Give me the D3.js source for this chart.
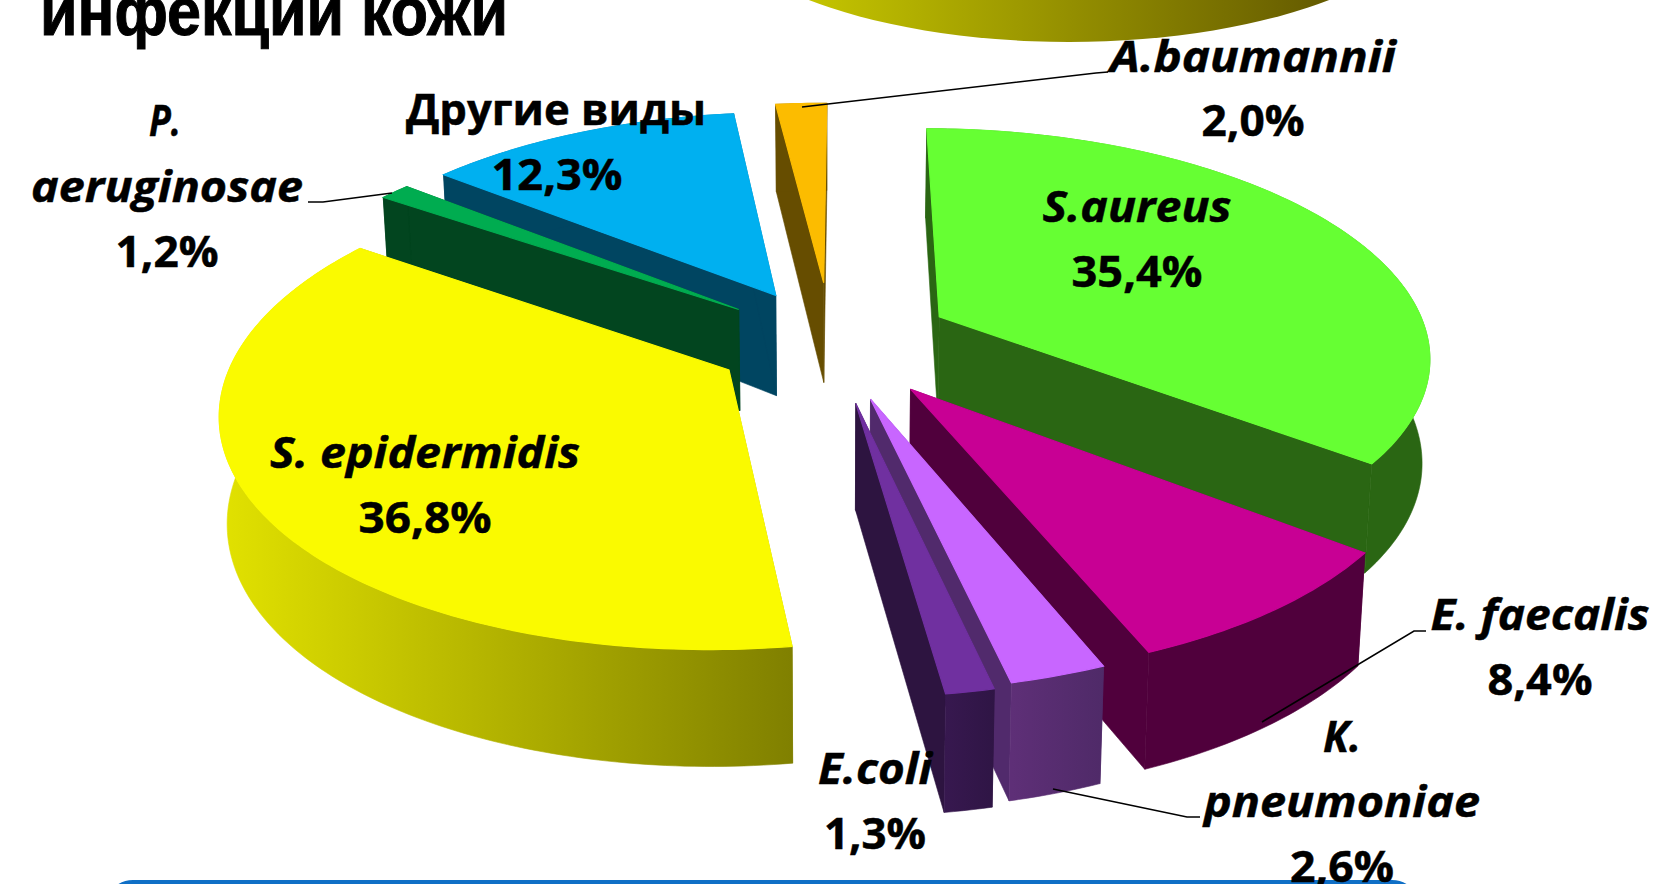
<!DOCTYPE html>
<html>
<head>
<meta charset="utf-8">
<script src="https://cdnjs.cloudflare.com/ajax/libs/d3/7.8.5/d3.min.js"></script>
<style>
  html, body { margin: 0; padding: 0; background: #fff; overflow: hidden; }
  text { font-family: "Open Sans", sans-serif; font-weight: 700; fill: #000; stroke: #000; stroke-width: 0.5; text-anchor: middle; }
</style>
</head>
<body>
<svg id="chart" width="1655" height="884"></svg>
<script>
// data
var names = ["S.aureus", "E. faecalis", "K. pneumoniae", "E.coli", "S. epidermidis", "P. aeruginosae", "Другие виды", "A.baumannii"];
var values = [35.4, 8.4, 2.6, 1.3, 36.8, 1.2, 12.3, 2.0];
var valueLabels = ["35,4%", "8,4%", "2,6%", "1,3%", "36,8%", "1,2%", "12,3%", "2,0%"];

// styling, same order as the data
var topColors = ["#66ff33", "#c80094", "#c866ff", "#7030a0", "#fafa00", "#00ac50", "#00b0f0", "#fcbc00"];
var wallColors = ["#2a6613", "#50003c", "#512a6c", "#2d1440", "#808000", "#02451f", "#004561", "#664d00"];
var rimFrom = [null, null, "#5e2f77", "#37184f", "#e2e200", null, null, null];
var rimTo = [null, null, "#4f2a68", "#2f1545", "#808000", null, null, null];
var explode = [0.25, 0.26, 0.26, 0.27, 0.24, 0.24, 0.24, 0.27];
var drawOrder = [7, 6, 5, 4, 0, 1, 2, 3];

// x, baseline, width, italic
var labelRows = [
  ["A.baumannii", 1253, 72, 286, true], ["2,0%", 1253, 136, 103, false],
  ["Другие виды", 556, 125, 300, false], ["12,3%", 557, 190, 131, false],
  ["P.", 165, 136, 32, true], ["aeruginosae", 167, 202, 272, true], ["1,2%", 167, 267, 103, false],
  ["S.aureus", 1137, 222, 189, true], ["35,4%", 1137, 287, 131, false],
  ["S. epidermidis", 425, 468, 310, true], ["36,8%", 425, 533, 133, false],
  ["E. faecalis", 1540, 630, 219, true], ["8,4%", 1540, 695, 105, false],
  ["K.", 1342, 752, 38, true], ["pneumoniae", 1342, 817, 276, true], ["2,6%", 1342, 882, 104, false],
  ["E.coli", 875, 784, 114, true], ["1,3%", 875, 849, 102, false]
];
var leaders = [
  [[802, 107], [1096, 73], [1108, 72]],
  [[392, 193], [323, 202], [308, 202]],
  [[1262, 722], [1414, 631], [1426, 631]],
  [[1053, 789], [1187, 817], [1200, 817]]
];

var svg = d3.select("#chart");
var defs = svg.append("defs");

// perspective of the tilted pie
var cx = 831, cy = 341, Rx = 490, Ry = 225, persp = 6.3, depth = 103;
var rot = 0.3 * Math.PI / 180;

function project(u, v, z) {
  var s = persp / (persp - v);
  var x = cx + Rx * u * s * (1 - 0.013 * z);
  return [x, cy + Ry * v * s + z * depth * (1 + 0.12 * v)];
}

var pie = d3.pie().sort(null).value(function (d) { return d; })
  .startAngle(rot).endAngle(rot + 2 * Math.PI);
var slices = pie(values);
var line = d3.line();

// decorative bottom of the cropped chart above
var topGrad = defs.append("linearGradient").attr("id", "topGrad")
  .attr("gradientUnits", "userSpaceOnUse").attr("x1", 810).attr("x2", 1329).attr("y1", 0).attr("y2", 0);
topGrad.append("stop").attr("offset", 0).attr("stop-color", "#c4c400");
topGrad.append("stop").attr("offset", 1).attr("stop-color", "#645a00");
svg.append("ellipse").attr("cx", 1069).attr("cy", -110).attr("rx", 377).attr("ry", 152)
  .attr("fill", "url(#topGrad)");

// blue box along the bottom edge
svg.append("rect").attr("x", 107).attr("y", 882).attr("width", 1311).attr("height", 60).attr("rx", 26)
  .attr("fill", "#dbeaf6").attr("stroke", "#0f6fc6").attr("stroke-width", 4);

function drawSlice(i) {
  var d = slices[i], e = explode[i];
  var mid = (d.startAngle + d.endAngle) / 2;
  var ou = e * Math.sin(mid), ov = -e * Math.cos(mid);
  var n = Math.max(4, Math.round((d.endAngle - d.startAngle) * 60));
  var angles = d3.range(n + 1).map(function (k) {
    return d.startAngle + (d.endAngle - d.startAngle) * k / n;
  });
  var pt = function (a, r, z) {
    return project(ou + r * Math.sin(a), ov - r * Math.cos(a), z);
  };
  var g = svg.append("g").attr("class", "slice");

  // the two cut walls
  [d.startAngle, d.endAngle].forEach(function (a) {
    g.append("path").attr("fill", wallColors[i]).attr("stroke", wallColors[i]).attr("stroke-width", 0.6)
      .attr("d", line([pt(a, 0, 0), pt(a, 1, 0), pt(a, 1, 1), pt(a, 0, 1)]) + "Z");
  });

  // outer rim
  var upper = angles.map(function (a) { return pt(a, 1, 0); });
  var lower = angles.map(function (a) { return pt(a, 1, 1); }).reverse();
  var rimFill = wallColors[i];
  if (rimFrom[i]) {
    var xs = d3.extent(upper, function (p) { return p[0]; });
    var grad = defs.append("linearGradient").attr("id", "rim" + i)
      .attr("gradientUnits", "userSpaceOnUse")
      .attr("x1", xs[0]).attr("x2", xs[1]).attr("y1", 0).attr("y2", 0);
    grad.append("stop").attr("offset", 0).attr("stop-color", rimFrom[i]);
    grad.append("stop").attr("offset", 1).attr("stop-color", rimTo[i]);
    rimFill = "url(#rim" + i + ")";
  }
  g.append("path").attr("fill", rimFill).attr("stroke", rimFill).attr("stroke-width", 0.6)
    .attr("d", line(upper.concat(lower)) + "Z");

  // top face, stroked in its own colour so the walls do not show round it
  g.append("path").attr("fill", topColors[i]).attr("stroke", topColors[i]).attr("stroke-width", 1.2)
    .attr("d", line([pt(0, 0, 0)].concat(upper)) + "Z");
}

drawOrder.forEach(drawSlice);

// leader lines
svg.append("g").selectAll("path").data(leaders).enter().append("path")
  .attr("d", function (d) { return line(d); })
  .attr("fill", "none").attr("stroke", "#000").attr("stroke-width", 1.6);

// labels
svg.append("g").selectAll("text").data(labelRows).enter().append("text")
  .attr("x", function (d) { return d[1]; })
  .attr("y", function (d) { return d[2]; })
  .attr("font-size", 43)
  .attr("font-style", function (d) { return d[4] ? "italic" : "normal"; })
  .attr("textLength", function (d) { return d[3]; })
  .attr("lengthAdjust", "spacingAndGlyphs")
  .text(function (d) { return d[0]; });

// page title, cropped by the top edge
svg.append("text").attr("x", 40).attr("y", 35)
  .style("text-anchor", "start").style("font-family", "'Liberation Sans', Arial, sans-serif")
  .style("stroke-width", 1)
  .attr("font-size", 68)
  .attr("textLength", 468).attr("lengthAdjust", "spacingAndGlyphs")
  .text("инфекции кожи");
</script>
</body>
</html>
